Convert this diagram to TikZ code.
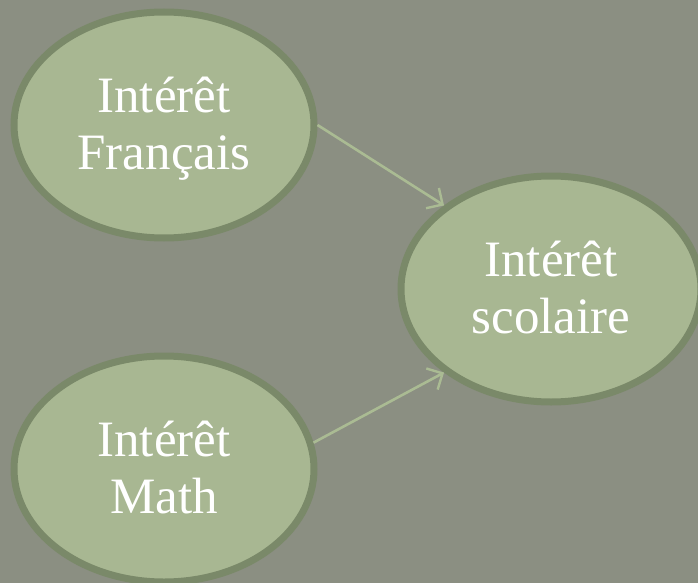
\documentclass[tikz,border=0pt]{standalone}
\usepackage{fontspec}
\setmainfont{Liberation Serif}
\usetikzlibrary{shapes.geometric,arrows.meta}
\definecolor{bgc}{RGB}{139,143,130}
\definecolor{fillc}{RGB}{168,183,146}
\definecolor{borderc}{RGB}{122,137,105}
\definecolor{arrowc}{RGB}{170,187,147}
\newcommand{\lineone}[1]{\raisebox{0pt}[32pt][0pt]{#1}}
\newcommand{\linetwo}[1]{\raisebox{0pt}[32pt][0pt]{#1}}
\tikzset{
  ell/.style={ellipse, draw=borderc, fill=fillc, line width=7pt,
    minimum width=300pt, minimum height=226pt, inner sep=0pt,
    text=white, align=center, font=\fontsize{51}{57}\selectfont},
  conn/.style={draw=arrowc, line width=2.6pt,
    -{Straight Barb[length=12pt,width=24pt,line width=2.4pt]}}
}
\begin{document}
\begin{tikzpicture}[x=1pt,y=-1pt]
\fill[bgc] (0,0) rectangle (698,583);
\useasboundingbox (0,0) rectangle (698,583);
\node[ell] (fr) at (164,125) {\lineone{Intérêt}\\\linetwo{Français}};
\node[ell] (ma) at (164,469) {\lineone{Intérêt}\\\linetwo{Math}};
\node[ell] (sc) at (551,289) {\lineone{Intérêt}\\\linetwo{scolaire}};
\draw[conn] (fr.east) -- (sc.142);
\draw[conn] (ma.10) -- (sc.218);
\end{tikzpicture}
\end{document}
